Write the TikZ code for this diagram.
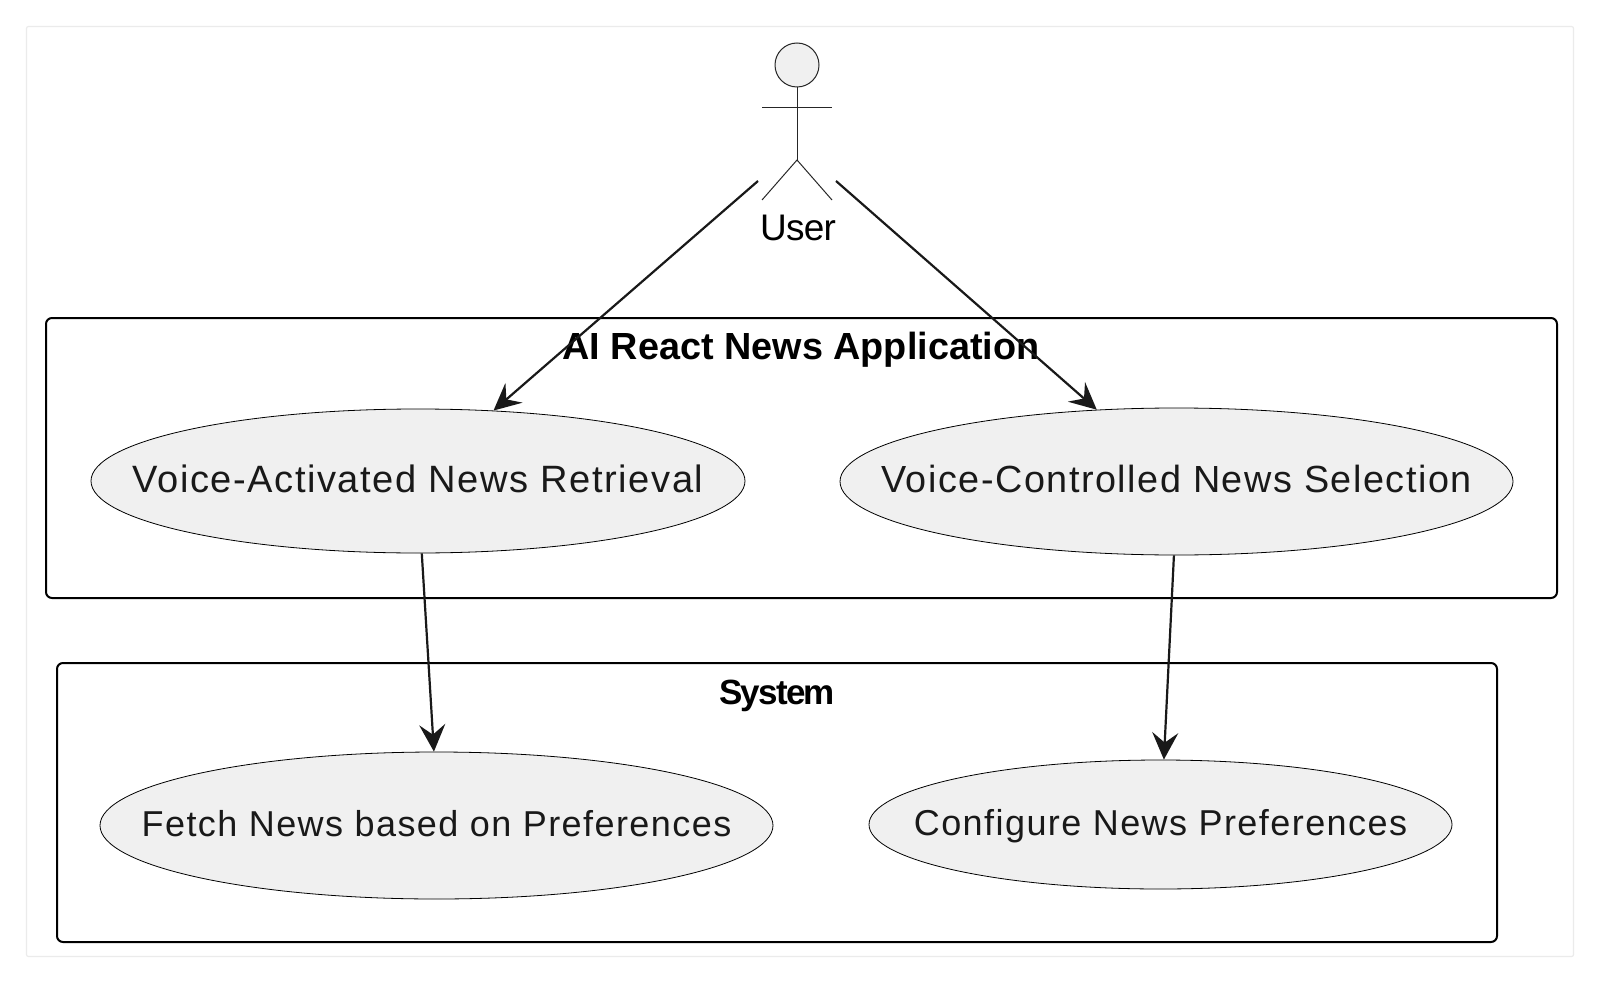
\documentclass[tikz,border=0pt]{standalone}
\usepackage{fontspec}
\setmainfont{Liberation Sans}
\usetikzlibrary{shapes.geometric,arrows.meta}
\newfontfamily\ucfont[LetterSpace=4]{Liberation Sans}
\newcommand{\uctext}[3]{\makebox[0pt][c]{\smash{\raisebox{#1}{\fontsize{#2}{40}\selectfont #3}}}}
\tikzset{
  usecase/.style={ellipse,draw=black,line width=0.8pt,fill=black!6,inner sep=0pt,font=\ucfont,text=black!90},
  frameline/.style={draw=black,line width=2pt,rounded corners=6pt},
  title/.style={inner sep=0pt,font=\bfseries\fontsize{37.8}{40}\selectfont},
  flow/.style={draw=black!90,line width=2.2pt,-{Stealth[length=27pt,width=26pt,inset=10pt]}},
  stick/.style={draw=black!85,line width=1pt},
}
\begin{document}
\begin{tikzpicture}[x=1pt,y=-1pt]
\useasboundingbox (0,0) rectangle (1600,984);
\fill[white] (0,0) rectangle (1600,984);
\draw[black!8,line width=1.2pt,rounded corners=2pt] (26.5,26.5) rectangle (1573.5,956.5);
% packages
\node[frameline,minimum width=1511pt,minimum height=280pt,inner sep=0pt] (app) at (801.5,458) {};
\node[frameline,minimum width=1440pt,minimum height=279pt,inner sep=0pt] (sys) at (777,802.5) {};
\node[title] (apptitle) at (801,350) {AI React News Application};
\node[title,font=\bfseries\fontsize{35}{40}\selectfont\addfontfeature{LetterSpace=-5}] (systitle) at (777,696) {System};
% use cases
\node[usecase,minimum width=654pt,minimum height=144pt] (e1) at (418,481) {\uctext{-11pt}{38.1}{Voice-Activated News Retrieval}};
\node[usecase,minimum width=673pt,minimum height=147pt] (e2) at (1176.5,481.5) {\uctext{-11pt}{37.8}{Voice-Controlled News Selection}};
\node[usecase,minimum width=673pt,minimum height=147pt] (e3) at (436.5,825.5) {\uctext{-11pt}{36}{Fetch News based on Preferences}};
\node[usecase,minimum width=583pt,minimum height=129pt] (e4) at (1160.5,824.5) {\uctext{-11pt}{36}{Configure News Preferences}};
% actor
\node[circle,draw=black!85,fill=black!6,line width=1pt,minimum size=44pt,inner sep=0pt] (head) at (797,65) {};
\coordinate (hip) at (797,160);
\coordinate (armL) at (762,108);
\coordinate (armR) at (832,108);
\coordinate (legL) at (762,200);
\coordinate (legR) at (832,200);
\draw[stick] (head.south) -- (hip);
\draw[stick] (armL) -- (armR);
\draw[stick] (legL) -- (hip) -- (legR);
\node[inner sep=0pt,font=\fontsize{37}{40}\selectfont\addfontfeature{LetterSpace=-2}] (user) at (798,228) {User};
\coordinate (userL) at (758,181);
\coordinate (userR) at (836,181);
% connectors
\draw[flow] (userL) -- (e1.43.9);
\draw[flow] (userR) -- (e2.138.1);
\draw[flow] (e1.-87.6) -- (e3.92.7);
\draw[flow] (e2.-92.7) -- (e4.87.8);
\end{tikzpicture}
\end{document}
